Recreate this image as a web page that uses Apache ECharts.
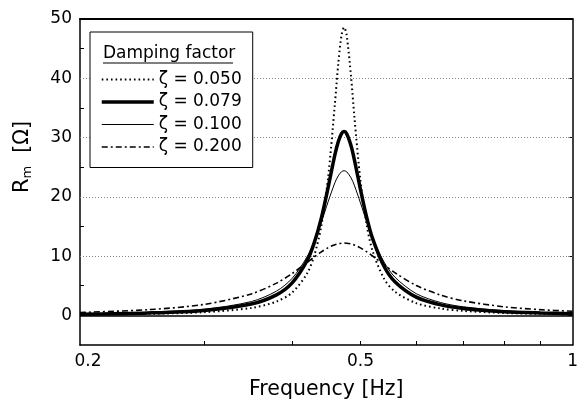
<!DOCTYPE html>
<html>
<head>
<meta charset="utf-8">
<script src="https://cdn.jsdelivr.net/npm/echarts@6/dist/echarts.min.js"></script>
<style>
html,body{margin:0;padding:0;background:#fff;}
#chart{width:581px;height:405px;}
</style>
</head>
<body>
<div id="chart"></div>
<script>
// ---- data ----
const freqs = [0.2, 0.25, 0.3, 0.35, 0.38, 0.40, 0.42, 0.43, 0.44, 0.45, 0.46, 0.465, 0.47, 0.474, 0.478, 0.485, 0.49, 0.50, 0.51, 0.52, 0.54, 0.56, 0.60, 0.65, 0.70, 0.80, 0.90, 1.0];
const zeta050 = [0.13, 0.26, 0.54, 1.25, 2.33, 3.85, 7.06, 10.11, 15.09, 23.37, 35.77, 42.36, 47.24, 48.6, 47.26, 40.15, 33.73, 22.69, 15.44, 10.94, 6.20, 3.98, 2.06, 1.15, 0.75, 0.40, 0.26, 0.18];
const zeta079 = [0.20, 0.41, 0.84, 1.91, 3.46, 5.48, 9.24, 12.28, 16.41, 21.64, 27.10, 29.27, 30.65, 31.0, 30.65, 28.59, 26.35, 21.27, 16.66, 13.03, 8.29, 5.64, 3.08, 1.77, 1.17, 0.63, 0.41, 0.29];
const zeta100 = [0.25, 0.51, 1.04, 2.33, 4.09, 6.24, 9.88, 12.50, 15.69, 19.21, 22.39, 23.53, 24.23, 24.4, 24.23, 23.18, 21.98, 18.98, 15.88, 13.12, 9.01, 6.41, 3.66, 2.16, 1.44, 0.79, 0.51, 0.36];
const zeta200 = [0.49, 0.96, 1.85, 3.62, 5.44, 7.06, 8.92, 9.86, 10.71, 11.43, 11.93, 12.09, 12.18, 12.2, 12.18, 12.04, 11.87, 11.39, 10.76, 10.04, 8.55, 7.17, 5.05, 3.41, 2.44, 1.44, 0.96, 0.69];
const seriesNames = ['ζ = 0.050', 'ζ = 0.079', 'ζ = 0.100', 'ζ = 0.200'];
const xRange = [0.2, 1];
const xTickValues = [0.2, 0.5, 1];
const xTickLabels = ['0.2', '0.5', '1'];
const xMinorTicks = [0.3, 0.4, 0.5, 0.6, 0.7, 0.8, 0.9];
const yRange = [-5, 50];
const yTickValues = [0, 10, 20, 30, 40, 50];
const yMinorTicks = [5, 15, 25, 35, 45];
const yGridValues = [10, 20, 30, 40];
const legendTitle = 'Damping factor';
const xTitle = 'Frequency [Hz]';

// ---- build ----
const FONT = 'DejaVu Sans';
const lg = Math.log10;
const toPts = (vals) => freqs.map((f, i) => [lg(f), vals[i]]);
const xLabelFor = (v) => {
  for (let i = 0; i < xTickValues.length; i++) {
    if (Math.abs(lg(xTickValues[i]) - v) < 1e-6) return i === 0 ? '{first|' + xTickLabels[i] + '}' : xTickLabels[i];
  }
  return '';
};

const lineStyles = [
  {color: '#000', width: 2, type: [1.6, 3]},
  {color: '#000', width: 3.5, type: 'solid'},
  {color: '#000', width: 1, type: 'solid'},
  {color: '#000', width: 1.6, type: [6, 3, 2, 3]}
];

const chart = echarts.init(document.getElementById('chart'), null, {renderer: 'canvas'});
const common = {type: 'line', showSymbol: false, symbol: 'none', smooth: 0.3, xAxisIndex: 0, yAxisIndex: 0, z: 3, itemStyle: {color: '#000'}};

chart.setOption({
  animation: false,
  backgroundColor: '#fff',
  grid: {left: 80, right: 3, top: 19, bottom: 59, containLabel: false},
  xAxis: [{
    type: 'value', min: lg(xRange[0]), max: lg(xRange[1]), position: 'bottom',
    axisLine: {show: true, onZero: false, lineStyle: {color: '#000', width: 1.5}},
    axisTick: {show: true, inside: true, length: 4, customValues: xMinorTicks.map(lg), lineStyle: {color: '#000', width: 1}},
    axisLabel: {
      customValues: xTickValues.map(lg), formatter: xLabelFor, margin: 8, fontSize: 17, color: '#000', fontFamily: FONT,
      rich: {first: {fontSize: 17, color: '#000', fontFamily: FONT, padding: [0, 0, 0, 16]}}
    },
    splitLine: {show: false},
    name: xTitle, nameLocation: 'middle', nameGap: 34,
    nameTextStyle: {fontSize: 20.5, color: '#000', fontFamily: FONT}
  }, {
    type: 'value', min: lg(xRange[0]), max: lg(xRange[1]), position: 'top',
    axisLine: {show: true, onZero: false, lineStyle: {color: '#000', width: 2}},
    axisTick: {show: false}, axisLabel: {show: false}, splitLine: {show: false}
  }],
  yAxis: [{
    type: 'value', min: yRange[0], max: yRange[1], interval: 5, position: 'left',
    axisLine: {show: true, onZero: false, lineStyle: {color: '#000', width: 1.5}},
    axisTick: {show: true, inside: true, length: 4, customValues: yMinorTicks, lineStyle: {color: '#000', width: 1}},
    axisLabel: {customValues: yTickValues, margin: 8, fontSize: 17, color: '#000', fontFamily: FONT},
    splitLine: {show: false},
    name: '{r|R}{s|m}  [Ω]', nameLocation: 'middle', nameGap: 46, nameRotate: 90,
    nameTextStyle: {
      fontSize: 20.5, color: '#000', fontFamily: FONT, padding: [0, 0, 0, 50],
      rich: {
        r: {fontSize: 21, fontFamily: FONT, color: '#000'},
        s: {fontSize: 13, fontFamily: FONT, color: '#000', verticalAlign: 'bottom', padding: [9, 0, 0, 0]}
      }
    }
  }, {
    type: 'value', min: yRange[0], max: yRange[1], position: 'left', offset: 0,
    axisLine: {show: false},
    axisTick: {show: true, inside: false, length: 4, customValues: yTickValues, lineStyle: {color: '#000', width: 1}},
    axisLabel: {show: false}, splitLine: {show: false}
  }, {
    type: 'value', min: yRange[0], max: yRange[1], position: 'right',
    axisLine: {show: true, onZero: false, lineStyle: {color: '#000', width: 1.5}},
    axisTick: {show: false}, axisLabel: {show: false}, splitLine: {show: false}
  }],
  legend: {
    orient: 'vertical', left: 90, top: 32,
    padding: [39, 11, 12, 10],
    borderColor: '#000', borderWidth: 1, backgroundColor: '#fff',
    itemWidth: 52, itemHeight: 14, itemGap: 5.5,
    selectedMode: false,
    itemStyle: {opacity: 0},
    textStyle: {fontSize: 17, color: '#000', fontFamily: FONT},
    data: seriesNames.map((n, i) => ({name: n, lineStyle: lineStyles[i]}))
  },
  graphic: [{
    type: 'text', left: 103, top: 45, z: 100,
    style: {text: legendTitle, fontSize: 17, fontFamily: FONT, fill: '#000'}
  }, {
    type: 'line', z: 100,
    shape: {x1: 103, y1: 63, x2: 233, y2: 63},
    style: {stroke: '#000', lineWidth: 1.2}
  }],
  series: [
    Object.assign({}, common, {
      name: seriesNames[0], data: toPts(zeta050), lineStyle: lineStyles[0],
      markLine: {
        silent: true, symbol: 'none', label: {show: false}, z: 1,
        data: yGridValues.map(v => ({yAxis: v, lineStyle: {color: '#888', width: 1, type: [1, 2]}}))
          .concat([{yAxis: 0, lineStyle: {color: '#000', width: 1.5, type: 'solid'}}])
      }
    }),
    Object.assign({}, common, {name: seriesNames[1], data: toPts(zeta079), lineStyle: lineStyles[1]}),
    Object.assign({}, common, {name: seriesNames[2], data: toPts(zeta100), lineStyle: lineStyles[2]}),
    Object.assign({}, common, {name: seriesNames[3], data: toPts(zeta200), lineStyle: lineStyles[3]})
  ]
});
</script>
</body>
</html>
